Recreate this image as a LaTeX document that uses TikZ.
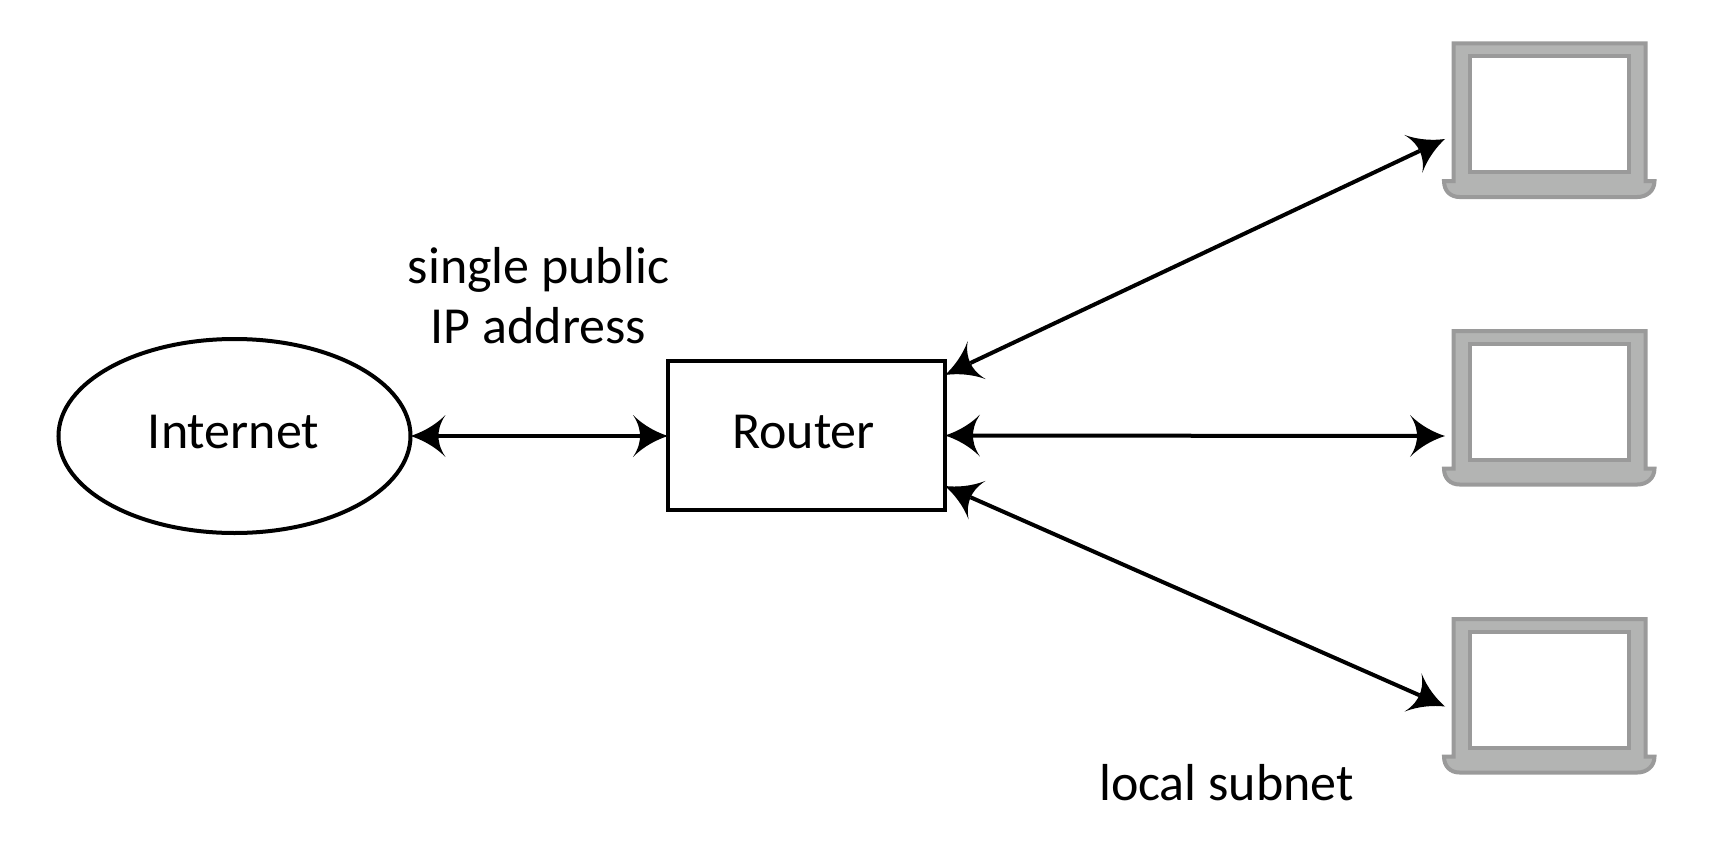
\documentclass[tikz,border=0pt]{standalone}
\usepackage{fontspec}
\setmainfont{Carlito}
\usetikzlibrary{arrows,positioning,shapes.geometric,backgrounds}

\definecolor{pcfill}{HTML}{B3B4B3}
\definecolor{pcline}{HTML}{9A9A9A}

\pgfarrowsdeclare{swoop}{swoop}
{\pgfarrowsleftextend{-7pt}\pgfarrowsrightextend{28pt}}
{
  \pgfpathmoveto{\pgfpoint{28pt}{0pt}}
  \pgfpathcurveto{\pgfpoint{17pt}{3.5pt}}{\pgfpoint{4pt}{10pt}}{\pgfpoint{-7pt}{21pt}}
  \pgfpathcurveto{\pgfpoint{-1pt}{12pt}}{\pgfpoint{0pt}{5pt}}{\pgfpoint{0pt}{0pt}}
  \pgfpathcurveto{\pgfpoint{0pt}{-5pt}}{\pgfpoint{-1pt}{-12pt}}{\pgfpoint{-7pt}{-21pt}}
  \pgfpathcurveto{\pgfpoint{4pt}{-10pt}}{\pgfpoint{17pt}{-3.5pt}}{\pgfpoint{28pt}{0pt}}
  \pgfusepathqfill
}

\tikzset{
  label text/.style={font=\fontsize{52}{60}\selectfont,align=center},
  link/.style={<->,line width=4pt},
  pcscreen/.style={rectangle,draw=pcline,fill=white,line width=4pt,outer sep=0pt,
    minimum width=159pt,minimum height=116pt},
  pcbody/.style={draw=pcline,fill=pcfill,line width=4pt}
}

\newcommand{\pcshell}[1]{
  \begin{scope}[on background layer,shift={(#1.center)}]
    \draw[pcbody] (-96,70.5) -- (96,70.5) -- (96,-67) -- (105,-67)
      .. controls (105,-77) and (97,-83) .. (88,-83) -- (-90,-83)
      .. controls (-99,-83) and (-105.5,-77) .. (-105.5,-67) -- (-96,-67) -- cycle;
  \end{scope}
}

\begin{document}
\begin{tikzpicture}[x=1pt,y=1pt,>=swoop,node distance=573.5pt,on grid]
    \useasboundingbox (-806.5,-408.5) rectangle (924.5,435.5);

    \node[rectangle,draw,line width=4pt,outer sep=0pt,minimum width=277pt,minimum height=149pt] (router) {};
    \node[ellipse,draw,line width=4pt,outer sep=0pt,inner sep=0pt,minimum width=352pt,minimum height=194pt] (internet) [below left=0.5pt and 572pt of router] {};
    \node[label text] (routername) [above left=3pt and 3pt of router] {Router};
    \node[label text] (internetname) [above left=3.5pt and 1pt of internet] {Internet};

    \node[pcscreen] (pcA) [above right=321.5pt and 743pt of router] {};
    \node[pcscreen] (pcB) [above right=34pt and 743pt of router] {};
    \node[pcscreen] (pcC) [below right=254pt and 743pt of router] {};
    \pcshell{pcA}
    \pcshell{pcB}
    \pcshell{pcC}

    \node[label text] (public) [above right=140pt and 304pt of internet] {single public\\IP address};
    \node[label text] (subnet) [below right=347pt and 420pt of router] {local subnet};

    \coordinate (routerA) at ([yshift=60.5pt]router.east);
    \coordinate (routerC) at ([yshift=-50.5pt]router.east);
    \coordinate (portA) at ([xshift=-25pt,yshift=-25pt]pcA.west);
    \coordinate (portB) at ([xshift=-25pt,yshift=-34.5pt]pcB.west);
    \coordinate (portC) at ([xshift=-25pt,yshift=-17pt]pcC.west);
    \coordinate (routerW) at ([yshift=-0.5pt]router.west);

    \draw[link] (internet.east) -- (routerW);
    \draw[link] (routerA) -- (portA);
    \draw[link] (router.east) -- (portB);
    \draw[link] (routerC) -- (portC);
\end{tikzpicture}
\end{document}
